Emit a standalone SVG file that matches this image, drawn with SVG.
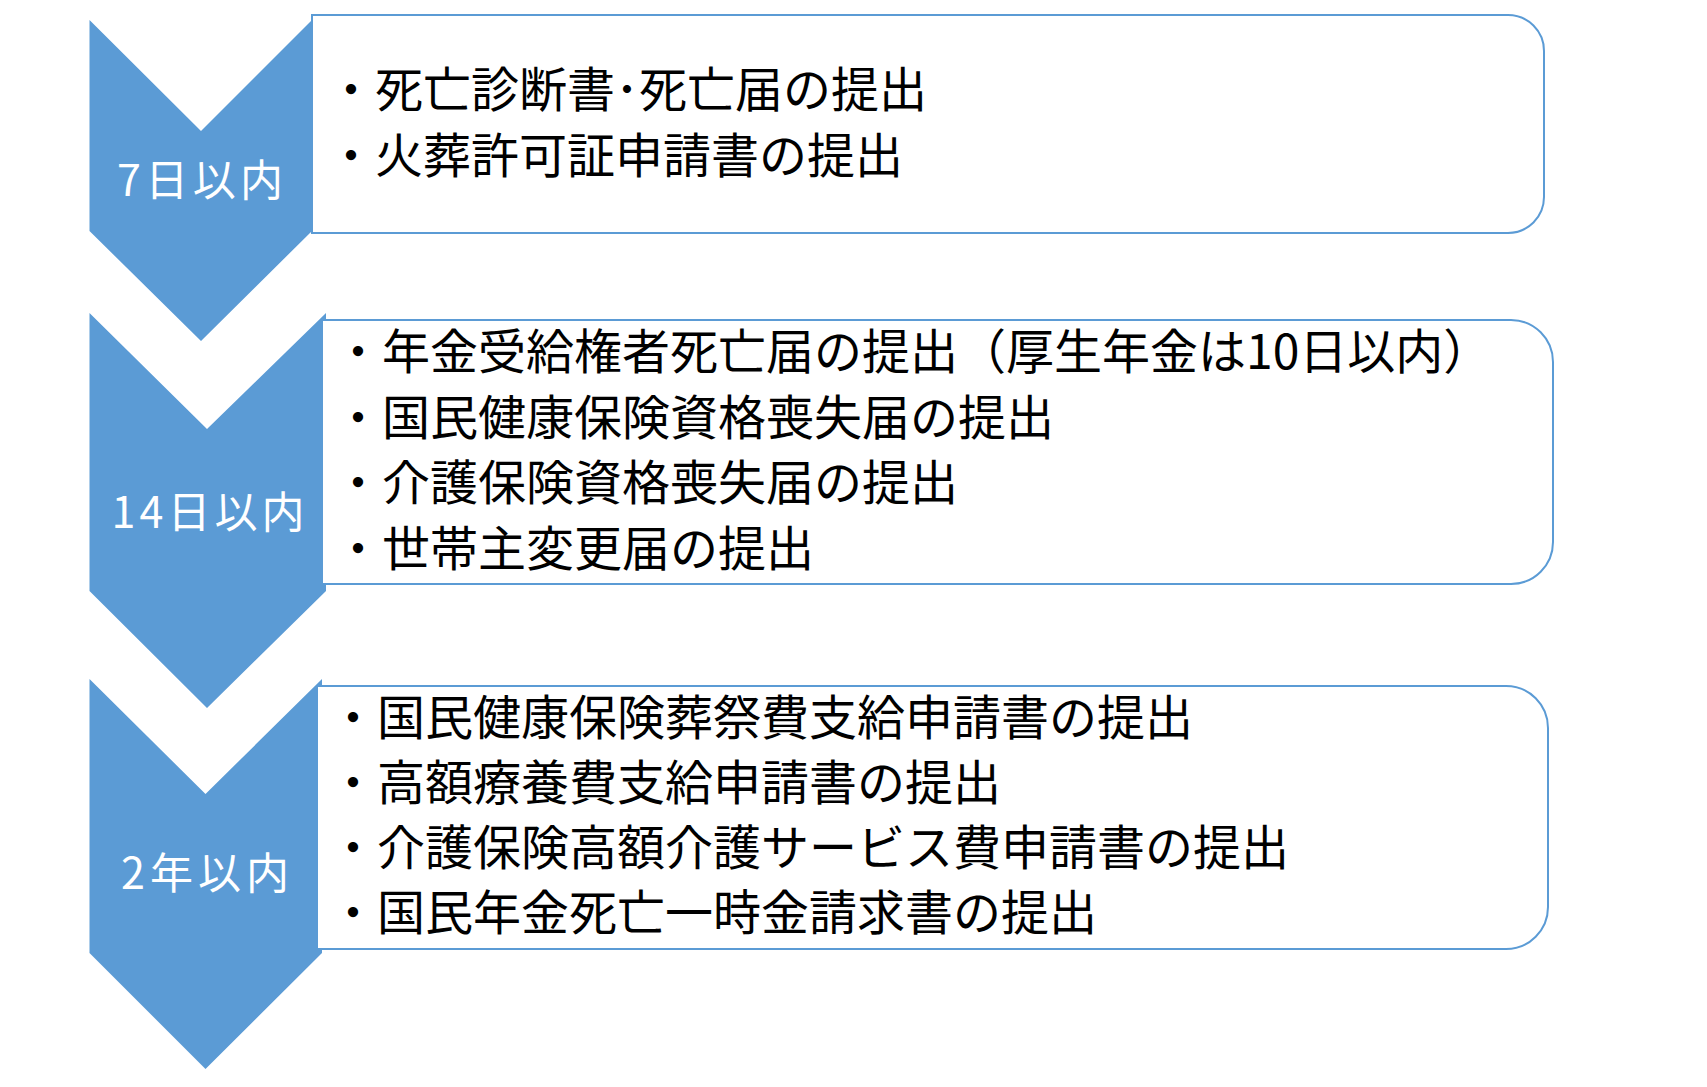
<svg xmlns="http://www.w3.org/2000/svg" width="1707" height="1087" viewBox="0 0 1707 1087">
<style>
.chev{fill:#5B9BD5;stroke:none}
.box{fill:#FFFFFF;stroke:#5B9BD5;stroke-width:2}
.lbl{font-family:"Noto Sans CJK JP","Noto Sans",sans-serif;font-size:43px;fill:#FFFFFF;text-anchor:middle}
.item{font-family:"Noto Sans CJK JP","Noto Sans",sans-serif;font-size:48px;fill:#000000}
</style>
<rect x="0" y="0" width="1707" height="1087" fill="#FFFFFF"/>
<g id="connectors"></g>
<g id="step1">
  <polygon class="chev" points="89.5,20 201,131 312,20 312,231 201,341 89.5,231"/>
  <path class="box" d="M312,15 H1508 A36,36 0 0 1 1544,51 V197 A36,36 0 0 1 1508,233 H312 Z"/>
  <text class="lbl" x="200" y="196" textLength="166" lengthAdjust="spacing">7日以内</text>
  <text class="item" x="327" y="107">・死亡診断書･死亡届の提出</text>
  <text class="item" x="327" y="173">・火葬許可証申請書の提出</text>
</g>
<g id="step2">
  <polygon class="chev" points="89.5,313 207,429 326,313 326,591 207,708 89.5,591"/>
  <path class="box" d="M323,320 H1511 A42,42 0 0 1 1553,362 V542 A42,42 0 0 1 1511,584 H323"/>
  <rect x="324" y="321" width="8" height="262" fill="#FFFFFF"/>
  <text class="lbl" x="208" y="528" textLength="193" lengthAdjust="spacing">14日以内</text>
  <text class="item" x="334" y="369">・年金受給権者死亡届の提出（厚生年金は10日以内）</text>
  <text class="item" x="334" y="435">・国民健康保険資格喪失届の提出</text>
  <text class="item" x="334" y="500">・介護保険資格喪失届の提出</text>
  <text class="item" x="334" y="566">・世帯主変更届の提出</text>
</g>
<g id="step3">
  <polygon class="chev" points="89.5,679 205.5,794 322,679 322,953 205.5,1069 89.5,953"/>
  <path class="box" d="M318,686 H1506 A42,42 0 0 1 1548,728 V907 A42,42 0 0 1 1506,949 H318"/>
  <rect x="318" y="687" width="8" height="261" fill="#FFFFFF"/>
  <text class="lbl" x="205" y="889" textLength="168" lengthAdjust="spacing">2年以内</text>
  <text class="item" x="329" y="735">・国民健康保険葬祭費支給申請書の提出</text>
  <text class="item" x="329" y="800">・高額療養費支給申請書の提出</text>
  <text class="item" x="329" y="865">・介護保険高額介護サービス費申請書の提出</text>
  <text class="item" x="329" y="930">・国民年金死亡一時金請求書の提出</text>
</g>
</svg>
